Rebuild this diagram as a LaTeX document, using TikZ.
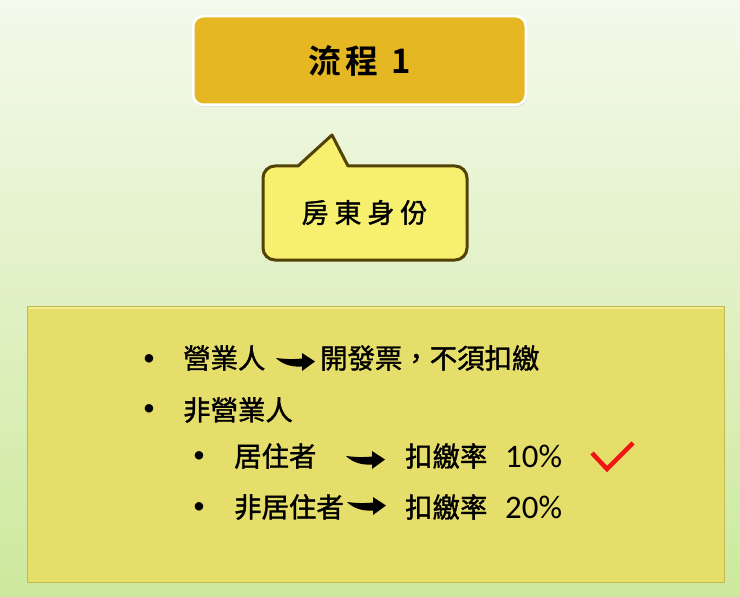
\documentclass[tikz,border=0pt]{standalone}
\usepackage{fontspec}
\setmainfont{Carlito}
\newfontfamily\cjk[Language=Chinese Traditional,FakeBold=1.4]{Noto Sans CJK TC}
\newfontfamily\cjkbold[Language=Chinese Traditional]{Noto Sans CJK TC Bold}
\usetikzlibrary{shadows}

\definecolor{bgtop}{RGB}{244,249,236}
\definecolor{bgbot}{RGB}{205,233,156}
\definecolor{titlegold}{RGB}{229,183,34}
\definecolor{calloutfill}{RGB}{246,240,110}
\definecolor{calloutline}{RGB}{82,66,4}
\definecolor{boxfill}{RGB}{230,222,106}
\definecolor{boxline}{RGB}{196,186,80}
\definecolor{boxlight}{RGB}{244,238,150}
\definecolor{tickred}{RGB}{240,20,20}

\begin{document}
\begin{tikzpicture}[x=1bp,y=-1bp,
    item/.style={anchor=west,inner sep=0pt,font=\cjk\fontsize{27.5}{32}\selectfont},
    num/.style={anchor=west,inner sep=0pt,font=\fontsize{33}{38}\selectfont},
    dot/.style={inner sep=0pt,font=\fontsize{24}{30}\selectfont},
    swoosh/.pic={\fill (0,0) .. controls (8,1) and (16,1.5) .. (26,0.5) -- (26,-5) -- (39,3.5) -- (26,13) -- (26,8.5) .. controls (14,9.5) and (5,5) .. (0,0) -- cycle;}]
    \useasboundingbox (0,0) rectangle (740,597);
    \shade[top color=bgtop,bottom color=bgbot] (0,0) rectangle (740,597);

    % title box
    \node[draw=white,line width=2.5bp,fill=titlegold,rounded corners=10bp,
          minimum width=332.5bp,minimum height=88.5bp,
          drop shadow={opacity=0.2,shadow xshift=1bp,shadow yshift=-2bp},
          font=\cjkbold\fontsize{33}{38}\selectfont] (title) at (359.5,60.5) {流\hspace{4bp}程\hspace{13bp}1};

    % callout
    \filldraw[fill=calloutfill,draw=calloutline,line width=3bp,line join=round]
      (298,166) -- (332,135) -- (348,166) -- (455,166)
      .. controls (461.6,166) and (467,171.4) .. (467,178) -- (467,248)
      .. controls (467,254.6) and (461.6,260) .. (455,260) -- (275,260)
      .. controls (268.4,260) and (263,254.6) .. (263,248) -- (263,178)
      .. controls (263,171.4) and (268.4,166) .. (275,166) -- cycle;
    \node[font=\cjk\fontsize{27}{32}\selectfont] (owner) at (364.5,212.5) {房\hspace{6bp}東\hspace{6bp}身\hspace{6bp}份};

    % panel
    \node[fill=boxfill,draw=boxline,line width=1.5bp,minimum width=697bp,minimum height=276bp] (panel) at (376,444.5) {};
    \draw[boxlight,line width=2bp] ([shift={(2,2.5)}]panel.north west) -- ([shift={(-2,2.5)}]panel.north east);

    \node[dot] (b1) at (149,360) {•};
    \node[item] (t1) at (183,358) {營業人};
    \node[item] (t1r) at (320,358) {開發票，不須扣繳};
    \node[dot] (b2) at (149,410) {•};
    \node[item] (t2) at (183,410) {非營業人};
    \node[dot] (b3) at (199,457) {•};
    \node[item] (t3) at (234,456) {居住者};
    \node[item] (t3r) at (405,456) {扣繳率};
    \node[num] (t3p) at (505,456) {10\%};
    \node[dot] (b4) at (199,508) {•};
    \node[item] (t4) at (234,507) {非居住者};
    \node[item] (t4r) at (405,507) {扣繳率};
    \node[num] (t4p) at (505,507) {20\%};

    \coordinate (s1) at (276,358);
    \coordinate (s3) at (346,456);
    \coordinate (s4) at (347,502);
    \pic at (s1) {swoosh};
    \pic at (s3) {swoosh};
    \pic at (s4) {swoosh};

    \draw[tickred,line width=4.5bp] (592,453) -- (607,469) -- (633,443);
\end{tikzpicture}
\end{document}
